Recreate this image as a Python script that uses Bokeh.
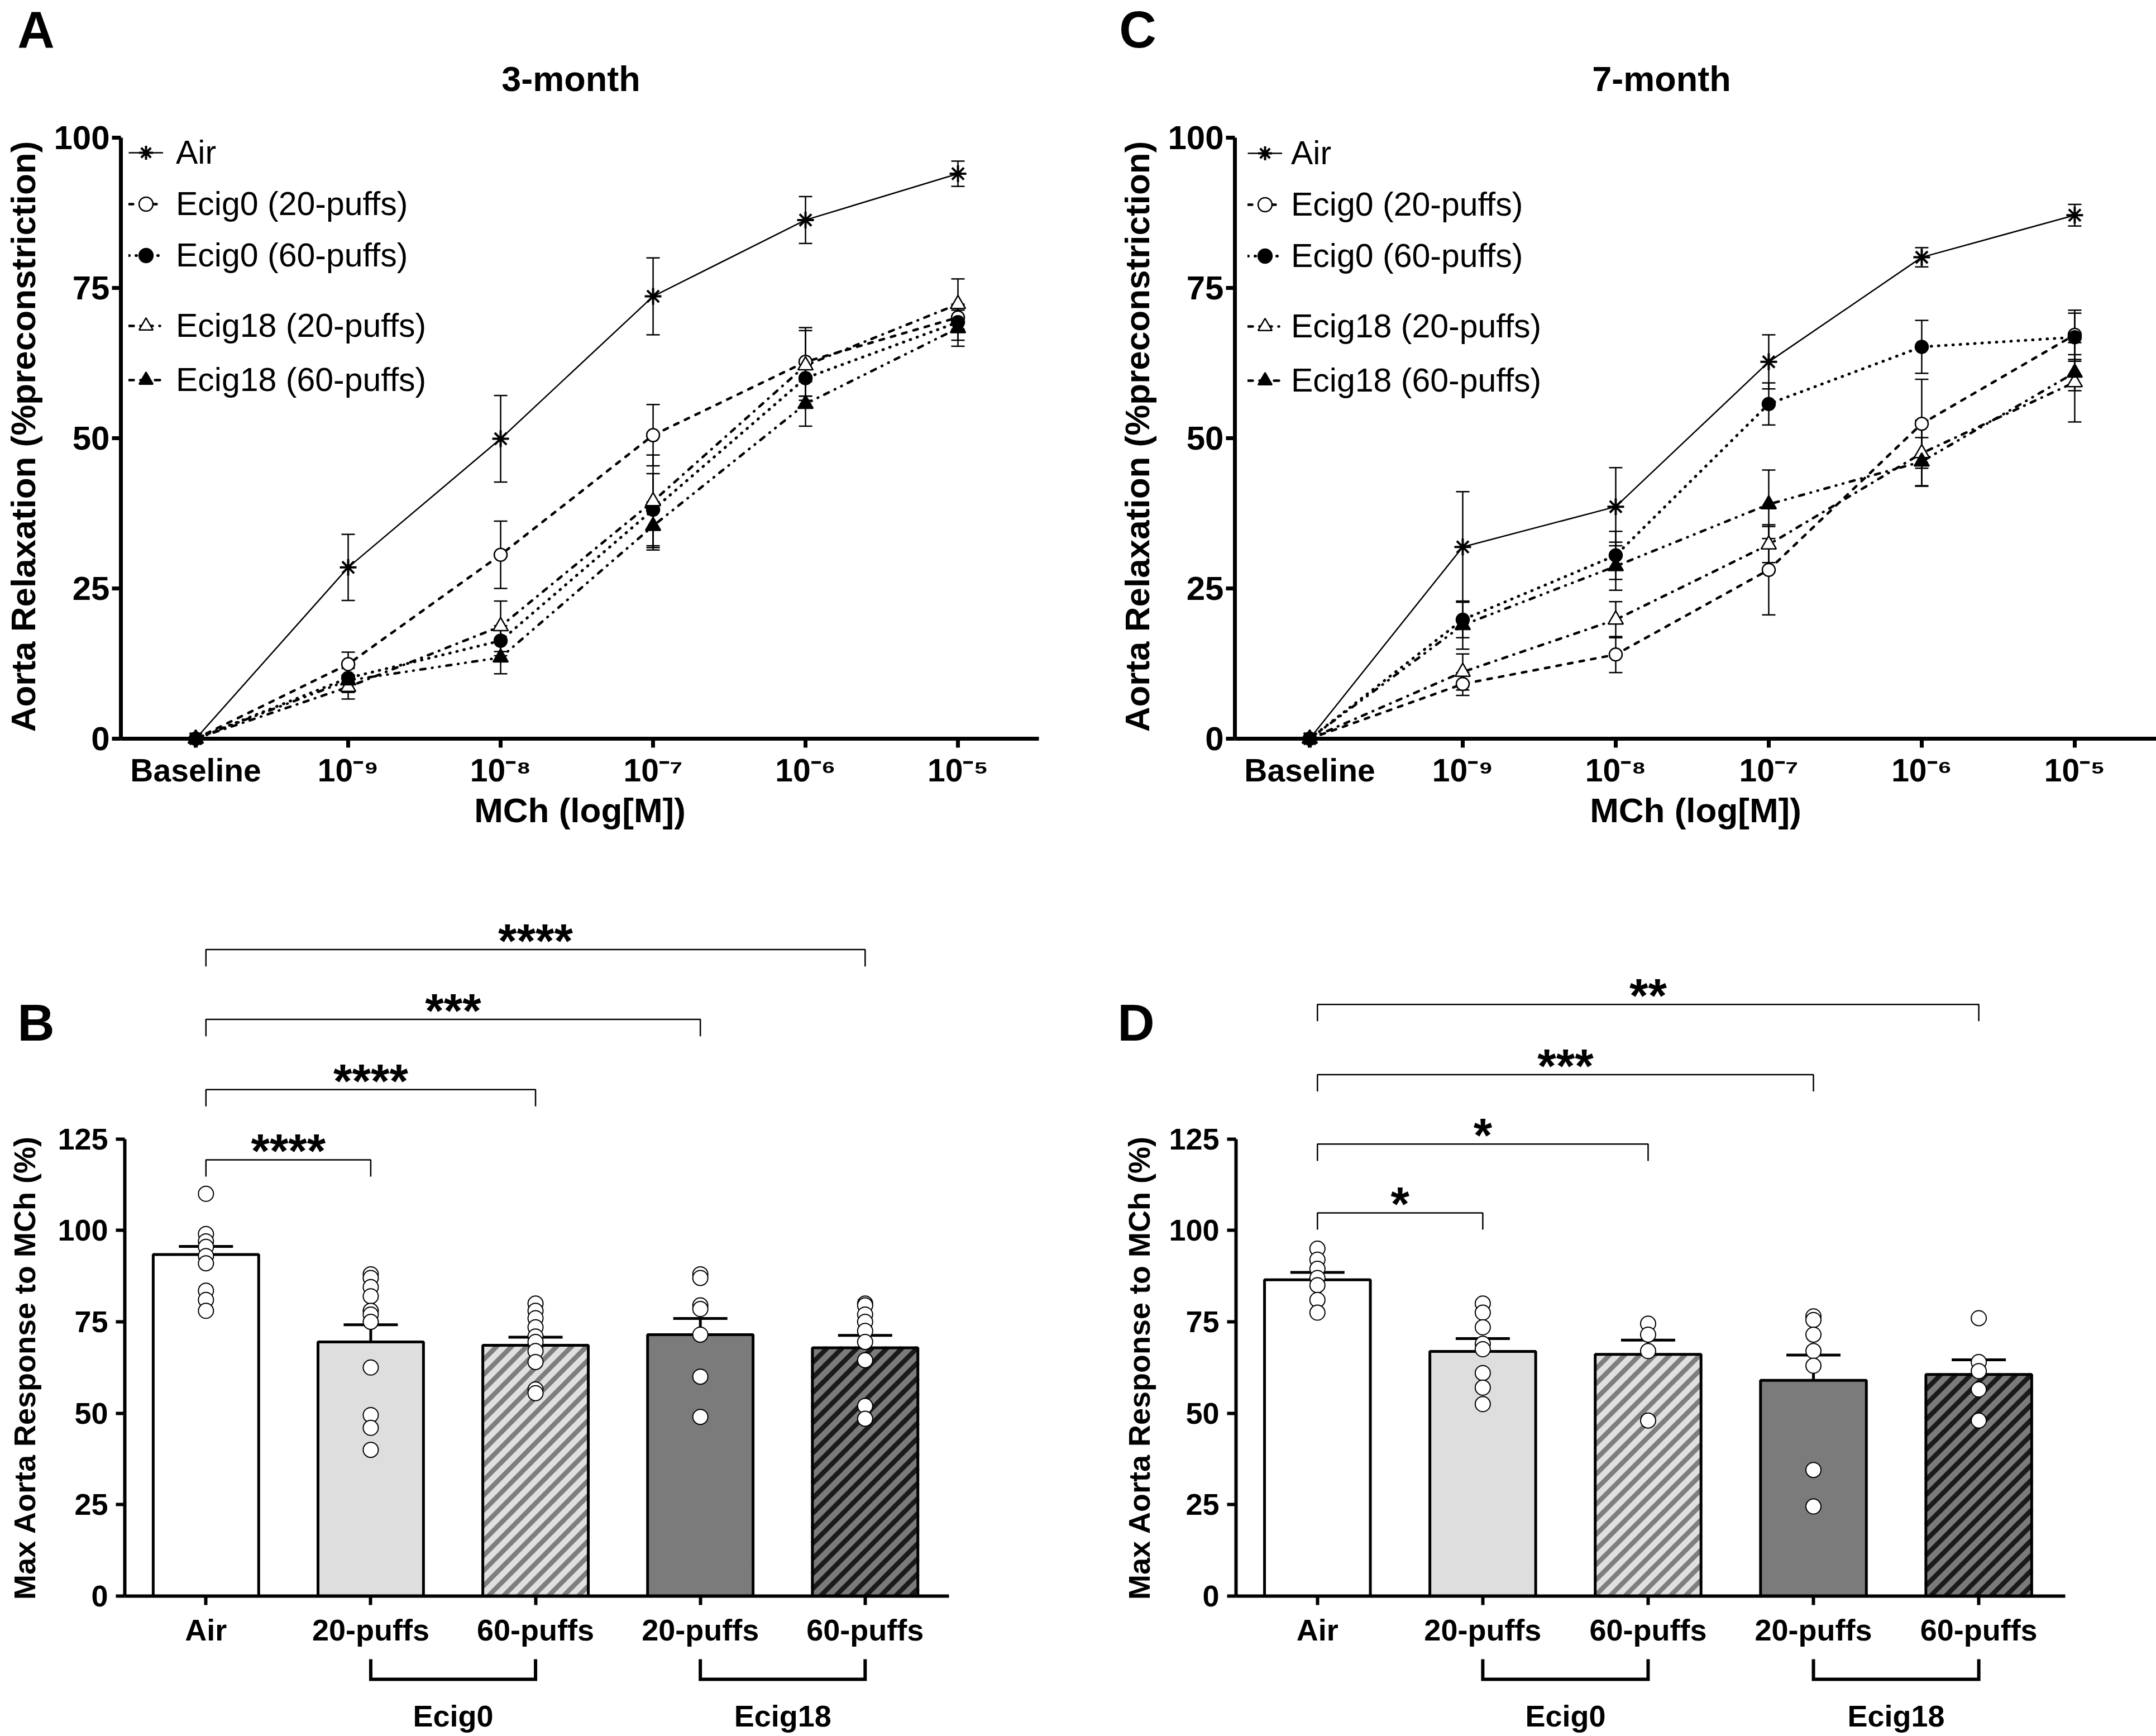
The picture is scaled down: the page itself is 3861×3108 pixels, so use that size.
import math
from bokeh.plotting import figure
from bokeh.models import (Range1d, FixedTicker, Whisker, TeeHead, ColumnDataSource,
                          Legend, LegendItem)
from bokeh.layouts import row, column
from bokeh.embed import file_html
from bokeh.resources import INLINE
from bokeh.core.properties import value

FONT = "Liberation Sans"

# ------------------------------------------------------------------ data
doses = ["Baseline", "10\u207b\u2079", "10\u207b\u2078", "10\u207b\u2077", "10\u207b\u2076", "10\u207b\u2075"]
series_names = ["Air", "Ecig0 (20-puffs)", "Ecig0 (60-puffs)", "Ecig18 (20-puffs)", "Ecig18 (60-puffs)"]

# 3-month dose response (mean, SEM)
air_3m = [0, 28.5, 49.9, 73.6, 86.3, 94.0]
air_3m_err = [0, 5.5, 7.2, 6.4, 3.9, 2.1]
e0_20_3m = [0, 12.4, 30.6, 50.5, 62.7, 70.1]
e0_20_3m_err = [0, 2.0, 5.6, 5.1, 5.7, 2.0]
e0_60_3m = [0, 10.1, 16.3, 38.1, 60.0, 69.3]
e0_60_3m_err = [0, 2.0, 2.5, 6.0, 3.0, 3.0]
e18_20_3m = [0, 8.6, 18.7, 39.5, 62.1, 72.3]
e18_20_3m_err = [0, 2.0, 4.2, 7.7, 5.8, 4.2]
e18_60_3m = [0, 9.7, 13.5, 35.4, 55.7, 68.3]
e18_60_3m_err = [0, 2.0, 2.7, 4.0, 3.7, 3.0]

# 7-month dose response (mean, SEM)
air_7m = [0, 31.9, 38.6, 62.7, 80.1, 87.1]
air_7m_err = [0, 9.2, 6.5, 4.5, 1.6, 1.8]
e0_20_7m = [0, 9.1, 14.0, 28.1, 52.4, 67.2]
e0_20_7m_err = [0, 1.9, 3.0, 7.5, 7.4, 4.1]
e0_60_7m = [0, 19.8, 30.5, 55.7, 65.2, 66.8]
e0_60_7m_err = [0, 3.0, 4.0, 3.5, 4.4, 4.0]
e18_20_7m = [0, 11.1, 19.8, 32.3, 47.5, 59.3]
e18_20_7m_err = [0, 3.0, 3.0, 3.0, 5.5, 6.6]
e18_60_7m = [0, 18.9, 28.7, 39.0, 46.1, 60.9]
e18_60_7m_err = [0, 4.0, 4.0, 5.7, 4.0, 3.0]

# max response bar charts
bar_labels = ["Air", "20-puffs", "60-puffs", "20-puffs", "60-puffs"]
groups = ["Ecig0", "Ecig18"]
group_members = [[1, 2], [3, 4]]

max_3m_mean = [93.4, 69.5, 68.6, 71.5, 67.9]
max_3m_sem = [2.2, 4.7, 2.2, 4.4, 3.4]
pts_3m_air = [110, 99, 97, 95.5, 93, 91, 83.5, 81, 78]
pts_3m_e0_20 = [88, 87, 84.5, 82, 78, 77, 75, 62.5, 49.5, 46, 40]
pts_3m_e0_60 = [80, 78, 76, 73.5, 71, 69.5, 67, 64, 56.5, 55.5]
pts_3m_e18_20 = [88, 87, 79.5, 78.5, 71.5, 60, 49]
pts_3m_e18_60 = [80, 79.5, 77, 75, 72.5, 69.5, 64.5, 52, 48.5]
sig_3m_text = ["****", "****", "***", "****"]
sig_3m_to = [1, 2, 3, 4]
sig_3m_y = [119.3, 138.5, 157.7, 176.8]

max_7m_mean = [86.5, 66.9, 66.1, 59.0, 60.6]
max_7m_sem = [2.0, 3.5, 3.9, 6.9, 4.0]
pts_7m_air = [95, 92, 89.5, 87, 85, 81, 77.5]
pts_7m_e0_20 = [80, 77.5, 73.5, 69, 67.5, 61, 57, 52.5]
pts_7m_e0_60 = [74.5, 71.5, 67, 48]
pts_7m_e18_20 = [76.5, 75.5, 71.5, 67, 63, 34.5, 24.5]
pts_7m_e18_60 = [76, 64, 61.5, 56.5, 48]
sig_7m_text = ["*", "*", "***", "**"]
sig_7m_to = [1, 2, 3, 4]
sig_7m_y = [104.8, 123.6, 142.6, 161.8]

panel_letters = ["A", "C", "B", "D"]
panel_titles = ["3-month", "7-month"]

# ------------------------------------------------------------------ styles
line_styles = [
    dict(marker="asterisk", fill="black", size=30, mlw=4, dash="solid", lw=2.5, cap="butt"),
    dict(marker="circle", fill="white", size=23, mlw=2.5, dash="8 13", lw=4.5, cap="round"),
    dict(marker="circle", fill="black", size=23, mlw=2.5, dash="1 12", lw=5, cap="round"),
    dict(marker="triangle", fill="white", size=27, mlw=2.5, dash="9 12 1 12", lw=4.5, cap="round"),
    dict(marker="triangle", fill="black", size=27, mlw=2.5, dash="9 12 1 12 1 12", lw=4.5, cap="round"),
]
bar_fill = ["white", "#dedede", "#e0e0e0", "#7b7b7b", "#7b7b7b"]
bar_striped = [False, False, True, False, True]
bar_stripe_color = ["black", "black", "#7e7e7e", "black", "#1a1a1a"]
BAR_W = 0.64
STRIPE_PERIOD = 27   # horizontal period of 45-degree stripes, px
STRIPE_WIDTH = 8.5   # stripe thickness, px


def blank_fig(width, height, xr, yr, left=0, right=0, top=0, bottom=0):
    p = figure(width=width, height=height, x_range=xr, y_range=yr,
               output_backend="svg", toolbar_location=None, x_axis_type=None, y_axis_type=None,
               min_border_left=left, min_border_right=right, min_border_top=top,
               min_border_bottom=bottom)
    p.outline_line_color = None
    p.grid.visible = False
    return p


def put_text(p, xs, ys, texts, size, angle=0.0):
    p.text(x=xs, y=ys, text=texts, text_font=value(FONT), text_font_style="bold",
           text_font_size=size, text_align="center", text_baseline="middle",
           text_color="black", angle=angle)


def style_axes(p, lw, tick_size, label_size, ystandoff, xstandoff):
    p.outline_line_color = None
    p.grid.visible = False
    for ax in (p.xaxis[0], p.yaxis[0]):
        ax.axis_line_width = lw
        ax.axis_line_color = "black"
        ax.major_tick_line_width = lw
        ax.major_tick_line_color = "black"
        ax.major_tick_out = 16
        ax.major_tick_in = 0
        ax.minor_tick_line_color = None
        ax.major_label_text_font = FONT
        ax.major_label_text_font_style = "bold"
        ax.major_label_text_color = "black"
        ax.axis_label_text_font = FONT
        ax.axis_label_text_font_style = "bold"
        ax.axis_label_text_color = "black"
        ax.axis_label_text_font_size = label_size
    p.xaxis[0].major_label_text_font_size = tick_size[0]
    p.yaxis[0].major_label_text_font_size = tick_size[1]
    p.yaxis[0].major_label_standoff = ystandoff
    p.xaxis[0].major_label_standoff = xstandoff


def line_panel(data, errs, width, height, left, right, top, frame_h, x_start, x_end,
               leg_x, leg_std):
    y_end = 100.0 * frame_h / (frame_h - 6)
    p = figure(width=width, height=height, x_range=Range1d(x_start, x_end),
               y_range=Range1d(0, y_end),
               output_backend="svg", toolbar_location=None,
               min_border_left=left, min_border_right=right, min_border_top=top,
               min_border_bottom=height - top - frame_h)
    style_axes(p, 7, ("57px", "60px"), "62px", 4, 8)
    xs = list(range(len(doses)))
    p.xaxis[0].ticker = FixedTicker(ticks=xs)
    p.xaxis[0].major_label_overrides = {i: d for i, d in enumerate(doses)}
    p.yaxis[0].ticker = FixedTicker(ticks=[0, 25, 50, 75, 100])
    p.yaxis[0].bounds = (0, 100)
    p.xaxis[0].axis_label = "MCh (log[M])"
    p.yaxis[0].axis_label = "Aorta Relaxation (%preconstriction)"
    p.xaxis[0].axis_label_standoff = 2
    p.yaxis[0].axis_label_standoff = 17

    items = []
    for name, vals, err, st in zip(series_names, data, errs, line_styles):
        sel = [i for i in xs if err[i] > 0]
        src = ColumnDataSource(dict(x=[xs[i] for i in sel],
                                    upper=[vals[i] + err[i] for i in sel],
                                    lower=[vals[i] - err[i] for i in sel]))
        w = Whisker(source=src, base="x", upper="upper", lower="lower", dimension="height",
                    line_color="black", line_width=2.5,
                    upper_head=TeeHead(size=24, line_width=2.5, line_color="black"),
                    lower_head=TeeHead(size=24, line_width=2.5, line_color="black"),
                    level="underlay")
        p.add_layout(w)
        lr = p.line(xs, vals, line_color="black", line_width=st["lw"], line_dash=st["dash"],
                    line_cap=st["cap"])
        sr = p.scatter(xs, vals, marker=st["marker"], size=st["size"], fill_color=st["fill"],
                       line_color="black", line_width=st["mlw"])
        sr.level = "overlay"
        items.append(LegendItem(label=name, renderers=[lr, sr]))

    # legend heights: 3 items -> 3*70 + 2*22 = 254 ; 2 items -> 2*70 + 27 = 167
    leg1 = Legend(items=items[:3], location=(leg_x, frame_h - 254), spacing=22)
    leg2 = Legend(items=items[3:], location=(leg_x, frame_h - 310 - 167), spacing=27)
    for lg in (leg1, leg2):
        lg.label_text_font = FONT
        lg.label_text_font_size = "59px"
        lg.label_text_color = "black"
        lg.glyph_width = 62
        lg.glyph_height = 70
        lg.label_height = 70
        lg.label_standoff = leg_std
        lg.padding = 0
        lg.margin = 0
        lg.border_line_color = None
        lg.background_fill_alpha = 0
        p.add_layout(lg)
    return p


def bar_panel(means, sems, pts, sig_text, sig_to, sig_y, width, left, right, x_end):
    height = 1415
    top = 60
    bottom = 98
    x_start = -0.4924
    y_top = 192
    p = figure(width=width, height=height, x_range=Range1d(x_start, x_end), y_range=Range1d(0, y_top),
               output_backend="svg", toolbar_location=None,
               min_border_left=left, min_border_right=right, min_border_top=top,
               min_border_bottom=bottom)
    style_axes(p, 6, ("54px", "54px"), "54px", 14, 14)
    xs = list(range(len(bar_labels)))
    p.xaxis[0].ticker = FixedTicker(ticks=xs)
    p.xaxis[0].major_label_overrides = {i: t for i, t in enumerate(bar_labels)}
    p.yaxis[0].ticker = FixedTicker(ticks=[0, 25, 50, 75, 100, 125])
    p.yaxis[0].bounds = (0, 125)

    src = ColumnDataSource(dict(x=xs, top=means, fill=bar_fill,
                                upper=[m + s for m, s in zip(means, sems)],
                                lower=[m - s for m, s in zip(means, sems)]))
    # bar fills
    p.vbar(x="x", top="top", width=BAR_W, bottom=0, source=src, fill_color="fill", line_color=None)

    # 45-degree stripes inside the striped bars (computed in screen pixels)
    sx = (width - left - right) / (x_end - x_start)
    sy = (height - top - bottom) / y_top
    for i, (m, striped, scol) in enumerate(zip(means, bar_striped, bar_stripe_color)):
        if not striped:
            continue
        wp, hp = BAR_W * sx, m * sy
        segx, segy = [], []
        d = -hp
        while d < wp:
            x0, x1 = max(0.0, d), min(wp, hp + d)
            if x1 > x0:
                segx.append([i - BAR_W / 2 + x0 / sx, i - BAR_W / 2 + x1 / sx])
                segy.append([(x0 - d) / sy, (x1 - d) / sy])
            d += STRIPE_PERIOD
        p.multi_line(segx, segy, line_color=scol, line_width=STRIPE_WIDTH)

    # bar outlines
    p.vbar(x="x", top="top", width=BAR_W, bottom=0, source=src, fill_color=None,
           line_color="black", line_width=5)

    px = [i for i, vals in enumerate(pts) for _ in vals]
    py = [v for vals in pts for v in vals]
    p.scatter(px, py, marker="circle", size=27, fill_color="white", line_color="black", line_width=2)
    p.add_layout(Whisker(source=src, base="x", upper="upper", lower="lower", dimension="height",
                         line_color="black", line_width=5,
                         upper_head=TeeHead(size=97, line_width=5, line_color="black"),
                         lower_head=TeeHead(size=97, line_width=5, line_color="black")))

    drop = 4.6
    bx = [[0, 0, t, t] for t in sig_to]
    by = [[y - drop, y, y, y - drop] for y in sig_y]
    p.multi_line(bx, by, line_color="black", line_width=2.5)
    p.text(x=[t / 2 for t in sig_to], y=sig_y, text=sig_text, text_font=value(FONT),
           text_font_style="bold", text_font_size="86px", text_align="center",
           text_baseline="alphabetic", y_offset=-16, text_color="black")
    return p


def group_panel(xr, width, left, right):
    h = 153
    p = blank_fig(width, h, xr, Range1d(h, 0), left=left, right=right)
    gx = [[a, a, b, b] for a, b in group_members]
    gy = [[15, 51, 51, 15] for _ in group_members]
    p.multi_line(gx, gy, line_color="black", line_width=6, line_join="miter")
    put_text(p, [(a + b) / 2 for a, b in group_members], [116] * len(groups), groups, "54px")
    return p


def strip_panel(width, height, letter, letter_x, label_x):
    p = blank_fig(width, height, Range1d(0, width), Range1d(height, 0))
    put_text(p, [letter_x], [290], [letter], "92px")
    put_text(p, [label_x], [908], ["Max Aorta Response to MCh (%)"], "54px", angle=math.pi / 2)
    return p


W = 3861
WL, WR = 1940, 1921

header = blank_fig(W, 208, Range1d(0, W), Range1d(208, 0))
put_text(header, [64, 2037], [52, 52], panel_letters[:2], "92px")
put_text(header, [1022, 2975], [140, 140], panel_titles, "63px")

pA = line_panel([air_3m, e0_20_3m, e0_60_3m, e18_20_3m, e18_60_3m],
                [air_3m_err, e0_20_3m_err, e0_60_3m_err, e18_20_3m_err, e18_60_3m_err],
                WL, 1332, 216, 80, 30, 1084, -0.491, 5.531, 14, 23)
pC = line_panel([air_7m, e0_20_7m, e0_60_7m, e18_20_7m, e18_60_7m],
                [air_7m_err, e0_20_7m_err, e0_60_7m_err, e18_20_7m_err, e18_60_7m_err],
                WR, 1332, 271, 0, 32, 1083, -0.489, 5.533, 23, 16)

sB = strip_panel(100, 1568, panel_letters[2], 64, 43)
pB = bar_panel(max_3m_mean, max_3m_sem,
               [pts_3m_air, pts_3m_e0_20, pts_3m_e0_60, pts_3m_e18_20, pts_3m_e18_60],
               sig_3m_text, sig_3m_to, sig_3m_y, WL - 100, 116, 241, 4.509)
gB = group_panel(pB.x_range, WL - 100, 116, 241)

sD = strip_panel(150, 1568, panel_letters[3], 94, 99)
pD = bar_panel(max_7m_mean, max_7m_sem,
               [pts_7m_air, pts_7m_e0_20, pts_7m_e0_60, pts_7m_e18_20, pts_7m_e18_60],
               sig_7m_text, sig_7m_to, sig_7m_y, WR - 150, 121, 163, 4.523)
gD = group_panel(pD.x_range, WR - 150, 121, 163)

layout = column(header,
                row(pA, pC),
                row(sB, column(pB, gB), sD, column(pD, gD)))
open("out.html", "w").write(file_html(layout, INLINE))
